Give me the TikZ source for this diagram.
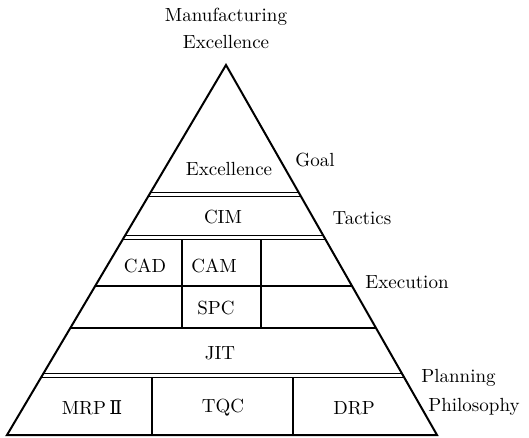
\documentclass[tikz,border=0pt]{standalone}
\usepackage{fontspec}
\newfontfamily\numfont{DejaVu Serif}

\begin{document}
\begin{tikzpicture}[
	x=0.5pt, y=-0.5pt,
	txt/.style={ inner sep=0pt, font=\fontsize{9.5}{11}\selectfont },
	side/.style={ line width=1pt, line join=miter },
	band/.style={ line width=0.5pt, double, double distance=1.6pt },
	rule/.style={ line width=0.6pt },
	wall/.style={ line width=0.8pt }
]
\useasboundingbox (0,0) rectangle (529,438);

\coordinate (top) at (226,65);
\coordinate (bl) at (7,435);
\coordinate (br) at (437,435);

% bands, clipped to the pyramid
\begin{scope}
\clip (top) -- (bl) -- (br) -- cycle;
\draw[band] (0,194.5) -- (529,194.5);
\draw[band] (0,237.5) -- (529,237.5);
\draw[rule] (0,286) -- (529,286);
\draw[rule] (0,328) -- (529,328);
\draw[band] (0,375.5) -- (529,375.5);
\end{scope}

% cell walls
\draw[wall] (182,239) -- (182,328);
\draw[wall] (261,239) -- (261,328);
\draw[wall] (152,377) -- (152,435);
\draw[wall] (293,377) -- (293,435);

\draw[side] (top) -- (bl) -- (br) -- cycle;

\node at (226,17) (mfg) [txt] {Manufacturing};
\node at (226,42) (mfgx) [txt] {Excellence};

\node at (229,169) (exc) [txt] {Excellence};
\node at (223,217) (cim) [txt] {CIM};
\node at (145,266) (cad) [txt] {CAD};
\node at (214,266) (cam) [txt] {CAM};
\node at (216,308) (spc) [txt] {SPC};
\node at (220,353) (jit) [txt] {JIT};
\node at (92,408) (mrp) [txt] {MRP\,{\numfont Ⅱ}};
\node at (223,408) (tqc) [txt] {TQC};
\node at (354,408) (drp) [txt] {DRP};

\node at (315,160) (goal) [txt] {Goal};
\node at (362,218) (tact) [txt] {Tactics};
\node at (407,282) (exec) [txt] {Execution};
\node at (421,378) (plan) [txt,anchor=west] {Planning};
\node at (428,407) (phil) [txt,anchor=west] {Philosophy};

\end{tikzpicture}
\end{document}
